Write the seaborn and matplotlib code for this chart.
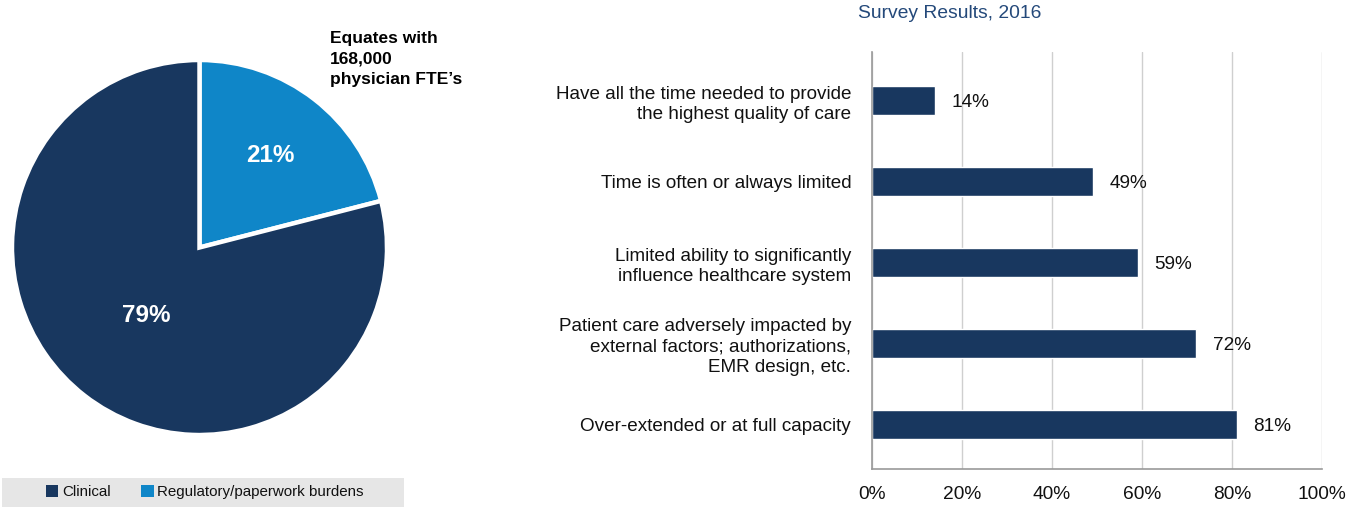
import numpy as np
import pandas as pd
import matplotlib
matplotlib.use("Agg")
import matplotlib.pyplot as plt
import matplotlib.patches as mpatches
from matplotlib.ticker import FixedLocator
import seaborn as sns

# ---- data -------------------------------------------------------------
pie_labels = ["Clinical", "Regulatory/paperwork burdens"]
pie_values = [79, 21]

categories = [
    "Have all the time needed to provide\nthe highest quality of care",
    "Time is often or always limited",
    "Limited ability to significantly\ninfluence healthcare system",
    "Patient care adversely impacted by\nexternal factors; authorizations,\nEMR design, etc.",
    "Over-extended or at full capacity",
]
survey_pct = [14, 49, 59, 72, 81]
x_ticks = [0, 20, 40, 60, 80, 100]

title = "Survey Results, 2016"
note = "Equates with\n168,000\nphysician FTE\u2019s"

# ---- style ------------------------------------------------------------
sns.set_theme(style="white")
plt.rcParams["font.family"] = ["Liberation Sans", "DejaVu Sans"]

NAVY = "#18375f"
BLUE = "#0f86c8"
GRID = "#cfcfcf"
SPINE = "#999999"
TEXT = "#111111"

W, H = 1368, 508
fig = plt.figure(figsize=(W / 100, H / 100), dpi=100)
fig.patch.set_facecolor("white")


def frac_box(left, top, right, bottom):
    return [left / W, 1 - bottom / H, (right - left) / W, (bottom - top) / H]


# ---- pie --------------------------------------------------------------
ax_pie = fig.add_axes(frac_box(12, 60, 387, 435))
# draw the regulatory slice first, clockwise from 12 o'clock
order = [1, 0]
wedges, _ = ax_pie.pie(
    [pie_values[i] for i in order],
    colors=[BLUE, NAVY],
    startangle=90,
    counterclock=False,
    radius=1.0,
    wedgeprops=dict(edgecolor="white", linewidth=3.2),
)
ax_pie.set_xlim(-1.0, 1.0)
ax_pie.set_ylim(-1.0, 1.0)
ax_pie.set_aspect("equal")
ax_pie.axis("off")

label_r = {1: 0.62, 0: 0.46}
for w, i in zip(wedges, order):
    mid = np.deg2rad((w.theta1 + w.theta2) / 2)
    r = label_r[i]
    ax_pie.text(r * np.cos(mid), r * np.sin(mid), f"{pie_values[i]}%",
                ha="center", va="center", color="white",
                fontsize=17.5, fontweight="bold")

fig.text(330 / W, 1 - 31 / H, note, ha="left", va="top",
         fontsize=12.5, fontweight="bold", color="black", linespacing=1.45)

# legend strip under the pie
fig.patches.append(mpatches.Rectangle((2 / W, 1 - 507 / H), 402 / W, 29 / H,
                                      transform=fig.transFigure,
                                      facecolor="#e6e6e6", edgecolor="none",
                                      zorder=0))
handles = [mpatches.Patch(facecolor=NAVY, edgecolor="none"),
           mpatches.Patch(facecolor=BLUE, edgecolor="none")]
fig.legend(handles, pie_labels, loc="center left",
           bbox_to_anchor=(40 / W, 1 - 492 / H), ncol=2, frameon=False,
           fontsize=10.9, handlelength=0.82, handleheight=0.82,
           handletextpad=0.25, columnspacing=2.0, borderaxespad=0,
           labelcolor=TEXT)

# ---- survey bars ------------------------------------------------------
ax = fig.add_axes(frac_box(872, 52, 1322, 469))
df = pd.DataFrame({"item": categories, "pct": survey_pct})
sns.barplot(data=df, x="pct", y="item", orient="h", color=NAVY,
            saturation=1, width=0.36, ax=ax)

ax.set_xlim(0, 100)
y_bottom, y_top = 4.55, -0.6
ax.set_ylim(y_bottom, y_top)
ax.set_xlabel("")
ax.set_ylabel("")

ax.xaxis.set_major_locator(FixedLocator(x_ticks))
ax.set_xticklabels([f"{t}%" for t in x_ticks])
ax.grid(axis="x", color=GRID, linewidth=1)
ax.grid(axis="y", visible=False)
ax.set_axisbelow(True)

for s in ["top", "right"]:
    ax.spines[s].set_visible(False)
for s in ["left", "bottom"]:
    ax.spines[s].set_color(SPINE)
    ax.spines[s].set_linewidth(1.2)

ax.tick_params(axis="x", which="major", length=4, color=SPINE,
               labelsize=13.8, pad=8, labelcolor=TEXT)
ax.tick_params(axis="y", which="major", length=0, pad=15,
               labelsize=13.6, labelcolor=TEXT)
# separator ticks between categories, plus one at the baseline
n = len(categories)
ax.yaxis.set_minor_locator(FixedLocator([i + 0.5 for i in range(n - 1)] + [y_bottom]))
ax.tick_params(axis="y", which="minor", length=6, color=SPINE, width=1.2)
for lbl in ax.get_yticklabels():
    lbl.set_horizontalalignment("right")
    lbl.set_multialignment("right")
    lbl.set_linespacing(1.25)

for container in ax.containers:
    texts = ax.bar_label(container, labels=[f"{v}%" for v in survey_pct],
                         padding=12, fontsize=13.7, color=TEXT)
    for t in texts:
        t.set_va("center_baseline")

fig.text(858 / W, 1 - 14 / H, title, ha="left", va="center",
         fontsize=13.9, color="#24497a")

fig.savefig("out.png", dpi=100)
